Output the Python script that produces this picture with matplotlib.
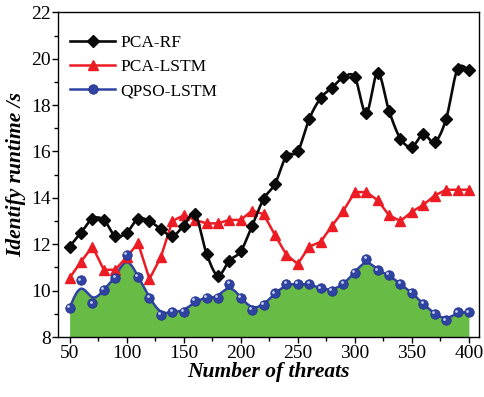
import numpy as np
import matplotlib.pyplot as plt
from matplotlib.transforms import offset_copy
from matplotlib.lines import Line2D

# ── DATA ───────────────────────────────────────────────────
threats = [50, 60, 70, 80, 90, 100, 110, 120, 130, 140,
           150, 160, 170, 180, 190, 200, 210, 220, 230, 240,
           250, 260, 270, 280, 290, 300, 310, 320, 330, 340,
           350, 360, 370, 380, 390, 400]

pca_rf = [11.9, 12.5, 13.1, 13.05, 12.35, 12.5, 13.1, 13.0, 12.65, 12.35,
          12.8, 13.3, 11.6, 10.65, 11.3, 11.7, 12.8, 13.95, 14.6, 15.8,
          16.0, 17.4, 18.3, 18.75, 19.2, 19.2, 17.65, 19.4, 17.75, 16.55,
          16.2, 16.75, 16.4, 17.4, 19.55, 19.5]

pca_lstm = [10.55, 11.25, 11.9, 10.9, 10.9, 11.45, 12.05, 10.5, 11.45, 13.0,
            13.25, 13.05, 12.9, 12.9, 13.05, 13.05, 13.45, 13.3, 12.4, 11.55,
            11.15, 11.9, 12.1, 12.8, 13.45, 14.25, 14.25, 13.9, 13.25, 13.0,
            13.4, 13.7, 14.1, 14.35, 14.35, 14.35]

qpso_lstm = [9.25, 10.45, 9.45, 10.05, 10.55, 11.55, 10.6, 9.7, 8.95, 9.1,
             9.1, 9.55, 9.7, 9.7, 10.3, 9.7, 9.18, 9.38, 9.88, 10.28,
             10.28, 10.28, 10.1, 10.0, 10.28, 10.78, 11.38, 10.87, 10.68, 10.28,
             9.92, 9.42, 9.0, 8.72, 9.07, 9.07]

# ── PALETTE ────────────────────────────────────────────────
BLACK = "#0a0a0a"
RED   = "#ec1c24"
BLUE  = "#2f43a3"
GREEN = "#68bb45"


def catmull_rom(x, y, n=20):
    # interpolating spline through every point
    p = np.column_stack([x, y]).astype(float)
    p = np.vstack([p[0], p, p[-1]])
    out = []
    t = np.linspace(0, 1, n, endpoint=False)[:, None]
    for i in range(1, len(p) - 2):
        p0, p1, p2, p3 = p[i - 1], p[i], p[i + 1], p[i + 2]
        seg = 0.5 * ((2 * p1) + (-p0 + p2) * t
                     + (2 * p0 - 5 * p1 + 4 * p2 - p3) * t ** 2
                     + (-p0 + 3 * p1 - 3 * p2 + p3) * t ** 3)
        out.append(seg)
    out.append(p[-2][None, :])
    out = np.vstack(out)
    return out[:, 0], out[:, 1]


def bspline(x, y, n=20):
    # approximating cubic B-spline, clamped at both ends
    p = np.column_stack([x, y]).astype(float)
    p = np.vstack([p[0], p[0], p, p[-1], p[-1]])
    out = []
    t = np.linspace(0, 1, n, endpoint=False)[:, None]
    b0 = (1 - t) ** 3 / 6
    b1 = (3 * t ** 3 - 6 * t ** 2 + 4) / 6
    b2 = (-3 * t ** 3 + 3 * t ** 2 + 3 * t + 1) / 6
    b3 = t ** 3 / 6
    for j in range(len(p) - 3):
        out.append(b0 * p[j] + b1 * p[j + 1] + b2 * p[j + 2] + b3 * p[j + 3])
    last = (p[-3] + 4 * p[-2] + p[-1]) / 6
    out.append(last[None, :])
    out = np.vstack(out)
    return out[:, 0], out[:, 1]


plt.rcParams.update({
    "font.family": ["Liberation Serif", "DejaVu Serif"],
    "axes.linewidth": 1.0,
})

fig = plt.figure(figsize=(4.85, 3.97), dpi=100)
ax = fig.add_axes([0.120, 0.151, 0.868, 0.818])

# QPSO-LSTM: filled smooth curve
bx, by = bspline(threats, qpso_lstm)
ax.fill_between(bx, by, 8, color=GREEN, linewidth=0, zorder=1)
ax.plot(bx, by, color=BLUE, linewidth=1.8, zorder=2)
ax.plot(threats, qpso_lstm, linestyle="none", marker="o", markersize=6.8,
        markerfacecolor=BLUE, markeredgecolor="#24358a", markeredgewidth=0.6,
        zorder=5)
hl = offset_copy(ax.transData, fig=fig, x=-1.2, y=1.2, units="points")
ax.plot(threats, qpso_lstm, linestyle="none", marker="o", markersize=2,
        markerfacecolor="#c8d0f0", markeredgewidth=0, transform=hl, zorder=6)

# PCA-LSTM: straight segments
ax.plot(threats, pca_lstm, color=RED, linewidth=1.8, marker="^",
        markersize=7.5, zorder=3)

# PCA-RF: smooth curve through points
sx, sy = catmull_rom(threats, pca_rf)
ax.plot(sx, sy, color=BLACK, linewidth=1.9, zorder=4)
ax.plot(threats, pca_rf, linestyle="none", marker="D", markersize=6.5,
        color=BLACK, zorder=4)

ax.set_xlim(40, 409)
ax.set_ylim(8, 22)
ax.set_xticks(range(50, 401, 50))
ax.set_xticks(range(75, 401, 50), minor=True)
ax.set_yticks(range(8, 23, 2))
ax.set_yticks(range(9, 22, 2), minor=True)
ax.tick_params(which="major", direction="out", length=4, width=1,
               labelsize=14, pad=1.5)
ax.tick_params(which="minor", direction="out", length=3, width=1)

ax.set_xlabel("Number of threats", fontsize=15.5, fontweight="bold",
              fontstyle="italic", labelpad=0)
ax.set_ylabel("Identify runtime /s", fontsize=15.5, fontweight="bold",
              fontstyle="italic", labelpad=3)

# legend
handles = [
    Line2D([], [], color=BLACK, linewidth=1.9, marker="D", markersize=6.5),
    Line2D([], [], color=RED, linewidth=1.8, marker="^", markersize=7.5),
    Line2D([], [], color=BLUE, linewidth=1.8, marker="o", markersize=6.8,
           markeredgecolor="#24358a", markeredgewidth=0.6),
]
ax.legend(handles, ["PCA-RF", "PCA-LSTM", "QPSO-LSTM"], loc="upper left",
          bbox_to_anchor=(0.028, 0.93), frameon=False, fontsize=12.5,
          handlelength=2.6, handletextpad=0.3, labelspacing=0.45,
          borderpad=0, borderaxespad=0)

fig.savefig("out.png", dpi=100)
